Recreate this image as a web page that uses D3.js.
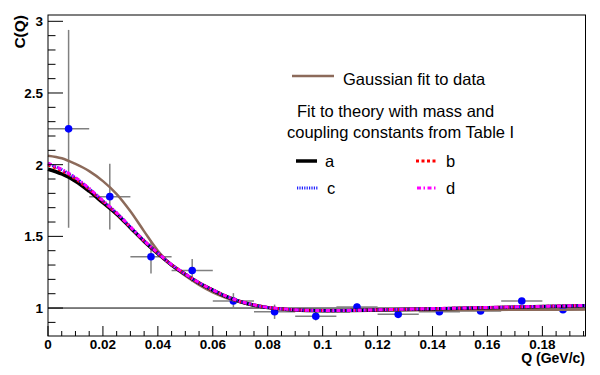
<!DOCTYPE html>
<html>
<head>
<meta charset="utf-8">
<script src="https://cdn.jsdelivr.net/npm/d3@7"></script>
<style>
  body { margin: 0; background: #fff; }
  svg { display: block; font-family: "Liberation Sans", Arial, sans-serif; }
</style>
</head>
<body>
<svg id="chart" width="600" height="375"></svg>
<script>
// measured points (bin centres, C(Q), errors)
var qData = [0.0075, 0.0225, 0.0375, 0.0525, 0.0675, 0.0825, 0.0975, 0.1125, 0.1275, 0.1425, 0.1575, 0.1725, 0.1875];
var cData = [2.25, 1.777, 1.358, 1.262, 1.049, 0.974, 0.943, 1.007, 0.956, 0.974, 0.979, 1.049, 0.988];
var cErr  = [0.69, 0.23, 0.117, 0.08, 0.055, 0.05, 0.03, 0.025, 0.025, 0.02, 0.02, 0.02, 0.02];
var qHalfBin = 0.0075;

// curves
var qCurve = [0, 0.005, 0.01, 0.015, 0.02, 0.025, 0.03, 0.035, 0.04, 0.045, 0.05, 0.055, 0.06, 0.065, 0.07, 0.075, 0.08, 0.09, 0.1, 0.11, 0.12, 0.13, 0.14, 0.15, 0.16, 0.17, 0.18, 0.1957];
var gaussFit = [2.063, 2.045, 2.005, 1.955, 1.885, 1.795, 1.675, 1.535, 1.40, 1.30, 1.225, 1.162, 1.11, 1.07, 1.04, 1.018, 1.003, 0.988, 0.984, 0.984, 0.984, 0.985, 0.985, 0.986, 0.987, 0.988, 0.988, 0.989];
var fitA = [1.968, 1.935, 1.885, 1.815, 1.735, 1.655, 1.56, 1.465, 1.38, 1.30, 1.235, 1.175, 1.125, 1.08, 1.045, 1.02, 1.003, 0.986, 0.981, 0.982, 0.986, 0.99, 0.994, 0.998, 1.002, 1.006, 1.01, 1.016];
var fitB = [1.998, 1.958, 1.902, 1.828, 1.744, 1.66, 1.564, 1.468, 1.382, 1.302, 1.236, 1.176, 1.126, 1.081, 1.046, 1.021, 1.004, 0.987, 0.982, 0.983, 0.987, 0.991, 0.995, 0.999, 1.003, 1.007, 1.011, 1.017];
var fitC = [2.008, 1.965, 1.908, 1.833, 1.748, 1.663, 1.566, 1.469, 1.383, 1.302, 1.236, 1.176, 1.126, 1.081, 1.046, 1.021, 1.004, 0.987, 0.982, 0.983, 0.987, 0.991, 0.995, 0.999, 1.003, 1.007, 1.011, 1.017];
var fitD = [2.01, 1.967, 1.91, 1.834, 1.749, 1.664, 1.567, 1.47, 1.384, 1.303, 1.237, 1.177, 1.127, 1.082, 1.047, 1.022, 1.005, 0.988, 0.983, 0.984, 0.988, 0.992, 0.996, 1.0, 1.004, 1.008, 1.012, 1.018];

var xTicks = [0, 0.02, 0.04, 0.06, 0.08, 0.1, 0.12, 0.14, 0.16, 0.18];
var yTicks = [1, 1.5, 2, 2.5, 3];

var svg = d3.select("#chart");
var plotL = 48, plotR = 585.5, plotT = 15, plotB = 336;
var yMax = 3.044;

var x = d3.scaleLinear().domain([0, 0.1957]).range([plotL, plotR]);
var y = d3.scaleLinear().domain([0.805, yMax]).range([plotB, plotT]);

// C = 1 reference line
svg.append("line")
  .attr("x1", plotL).attr("x2", plotR)
  .attr("y1", y(1)).attr("y2", y(1))
  .attr("stroke", "#000").attr("stroke-width", 1);

// error bars
var errCol = "#808080";
var pts = svg.append("g");
qData.forEach(function(q, i) {
  pts.append("line")
    .attr("x1", x(q - qHalfBin)).attr("x2", x(q + qHalfBin))
    .attr("y1", y(cData[i])).attr("y2", y(cData[i]))
    .attr("stroke", errCol).attr("stroke-width", 1.5);
  pts.append("line")
    .attr("x1", x(q)).attr("x2", x(q))
    .attr("y1", y(cData[i] - cErr[i])).attr("y2", y(Math.min(cData[i] + cErr[i], yMax)))
    .attr("stroke", errCol).attr("stroke-width", 1.5);
});
pts.selectAll("circle")
  .data(qData)
  .enter().append("circle")
  .attr("cx", function(d) { return x(d); })
  .attr("cy", function(d, i) { return y(cData[i]); })
  .attr("r", 3.8)
  .attr("fill", "#0000ff");

// curves
var line = d3.line()
  .x(function(d) { return x(d[0]); })
  .y(function(d) { return y(d[1]); })
  .curve(d3.curveCatmullRom);

var curves = [
  {vals: gaussFit, col: "#8c6a5a", w: 2.5, dash: null},
  {vals: fitA, col: "#000000", w: 3.5, dash: null},
  {vals: fitB, col: "#ff0000", w: 3, dash: "3,2.5"},
  {vals: fitC, col: "#2020ff", w: 3, dash: "1.2,1.2"},
  {vals: fitD, col: "#ff00ff", w: 3, dash: "4,2.5,1.5,2.5"}
];
curves.forEach(function(c) {
  svg.append("path")
    .datum(qCurve.map(function(q, i) { return [q, c.vals[i]]; }))
    .attr("d", line)
    .attr("fill", "none")
    .attr("stroke", c.col)
    .attr("stroke-width", c.w)
    .attr("stroke-dasharray", c.dash);
});

// frame
svg.append("rect")
  .attr("x", plotL).attr("y", plotT)
  .attr("width", plotR - plotL).attr("height", plotB - plotT)
  .attr("fill", "none").attr("stroke", "#000").attr("stroke-width", 1);

// ticks (inward)
var axes = svg.append("g").attr("stroke", "#000").attr("stroke-width", 1);
d3.range(0, 0.1957, 0.005).forEach(function(t) {
  var major = Math.abs(t / 0.02 - Math.round(t / 0.02)) < 1e-6;
  axes.append("line")
    .attr("x1", x(t)).attr("x2", x(t))
    .attr("y1", plotB).attr("y2", plotB - (major ? 10 : 5));
});
d3.range(0.9, 3.04, 0.1).forEach(function(t) {
  var major = Math.abs(t / 0.5 - Math.round(t / 0.5)) < 1e-6;
  axes.append("line")
    .attr("x1", plotL).attr("x2", plotL + (major ? 15 : 7.5))
    .attr("y1", y(t)).attr("y2", y(t));
});

svg.append("g").selectAll("text")
  .data(xTicks)
  .enter().append("text")
  .attr("x", function(d) { return x(d); })
  .attr("y", 349)
  .attr("text-anchor", "middle")
  .attr("font-size", 13.5).attr("font-weight", "bold")
  .text(function(d) { return String(+d.toFixed(2)); });

svg.append("g").selectAll("text")
  .data(yTicks)
  .enter().append("text")
  .attr("x", 43)
  .attr("y", function(d) { return y(d); })
  .attr("dy", "0.36em")
  .attr("text-anchor", "end")
  .attr("font-size", 13.5).attr("font-weight", "bold")
  .text(function(d) { return d; });

svg.append("text")
  .attr("x", 585).attr("y", 363)
  .attr("text-anchor", "end")
  .attr("font-size", 14).attr("font-weight", "bold")
  .text("Q (GeV/c)");

svg.append("text")
  .attr("transform", "translate(25,15) rotate(-90)")
  .attr("text-anchor", "end")
  .attr("font-size", 15.5).attr("font-weight", "bold")
  .text("C(Q)");

// legend
var lg = svg.append("g").attr("font-size", 16.5);
lg.append("line").attr("x1", 292).attr("x2", 334).attr("y1", 76).attr("y2", 76)
  .attr("stroke", "#8c6a5a").attr("stroke-width", 2.5);
lg.append("text").attr("x", 343).attr("y", 85).text("Gaussian fit to data");
lg.append("text").attr("x", 297).attr("y", 117).text("Fit to theory with mass and");
lg.append("text").attr("x", 287).attr("y", 137.5).text("coupling constants from Table I");

var legItems = [
  {name: "a", c: curves[1], lx: 296, tx: 325, ly: 161},
  {name: "b", c: curves[2], lx: 416, tx: 446, ly: 161},
  {name: "c", c: curves[3], lx: 297, tx: 327, ly: 188},
  {name: "d", c: curves[4], lx: 417, tx: 446, ly: 188}
];
legItems.forEach(function(it) {
  lg.append("line")
    .attr("x1", it.lx).attr("x2", it.lx + 21)
    .attr("y1", it.ly).attr("y2", it.ly)
    .attr("stroke", it.c.col).attr("stroke-width", it.c.w)
    .attr("stroke-dasharray", it.c.dash);
  lg.append("text").attr("x", it.tx).attr("y", it.ly + 6).text(it.name);
});
</script>
</body>
</html>
